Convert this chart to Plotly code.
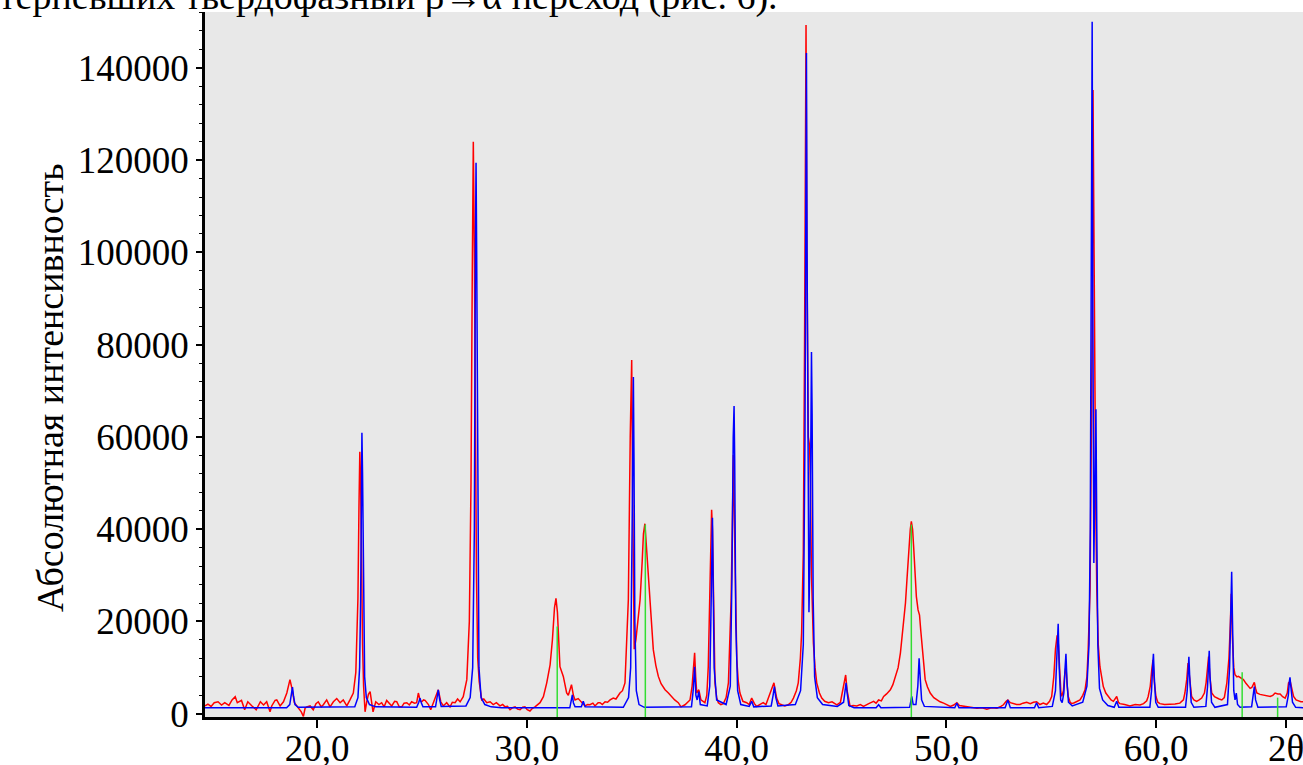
import plotly.graph_objects as go

# ---------------- data ----------------
# Red pattern: (2theta, intensity)
red_profile = [
    (14.66, 1700), (14.8, 2100), (14.95, 1600), (15.1, 2400), (15.28, 2600), (15.45, 1900),
    (15.6, 2400), (15.8, 1800), (15.95, 3000), (16.1, 3700), (16.2, 2400), (16.4, 2900),
    (16.55, 870), (16.7, 2600), (16.9, 1700), (17.1, 870), (17.3, 2600), (17.45, 1900),
    (17.6, 2600), (17.76, 430), (17.84, 1700), (18.0, 2900), (18.08, 3000), (18.24, 1700),
    (18.4, 2600), (18.56, 4500), (18.71, 7400), (18.82, 5200), (18.92, 2400), (19.02, 1800),
    (19.11, 1500), (19.25, 400), (19.35, -580), (19.43, 1200), (19.51, 1500), (19.67, 1700),
    (19.82, 870), (19.95, 2200), (20.06, 2600), (20.2, 1500), (20.3, 1950), (20.46, 3000),
    (20.62, 1500), (20.78, 2600), (20.94, 3300), (21.1, 2400), (21.25, 3000), (21.42, 1700),
    (21.57, 3000), (21.73, 4500), (21.85, 9000), (21.95, 25000), (22.0, 45000), (22.04, 56800),
    (22.08, 50000), (22.12, 30000), (22.17, 15000), (22.22, 6000), (22.29, 430), (22.37, 2600),
    (22.45, 4200), (22.53, 4800), (22.6, 2500), (22.67, 430), (22.8, 2600), (22.95, 2000),
    (23.08, 2400), (23.2, 1500), (23.32, 2900), (23.45, 2200), (23.56, 1700), (23.7, 2700),
    (23.8, 2600), (23.92, 1500), (24.04, 1500), (24.15, 2300), (24.28, 2400), (24.4, 1900),
    (24.51, 2600), (24.65, 2300), (24.75, 2400), (24.83, 4500), (24.92, 2800), (24.99, 2600),
    (25.08, 3000), (25.15, 2900), (25.31, 2000), (25.42, 870), (25.55, 2400), (25.71, 4500),
    (25.78, 5200), (25.9, 2600), (26.02, 1700), (26.18, 2400), (26.34, 1500), (26.45, 2500),
    (26.58, 2400), (26.7, 3200), (26.82, 2600), (26.97, 3700), (27.14, 7400), (27.26, 20000),
    (27.34, 50000), (27.4, 95000), (27.45, 124000), (27.5, 100000), (27.55, 60000), (27.6, 30000),
    (27.66, 12000), (27.73, 7000), (27.85, 3000), (27.95, 3200), (28.09, 2400), (28.25, 2600),
    (28.4, 2000), (28.55, 2400), (28.72, 1700), (28.85, 2000), (28.96, 1500), (29.08, 1600),
    (29.2, 870), (29.32, 1300), (29.44, 1500), (29.56, 1000), (29.68, 870), (29.8, 1400),
    (29.91, 1500), (30.02, 900), (30.15, 600), (30.27, 1200), (30.39, 1500), (30.52, 2000),
    (30.63, 2400), (30.79, 3700), (30.95, 6700), (31.11, 10600), (31.22, 16000), (31.32, 23000),
    (31.39, 25000), (31.46, 22000), (31.52, 15000), (31.58, 10200), (31.74, 8100), (31.9, 4500),
    (31.98, 4000), (32.06, 5200), (32.13, 6300), (32.22, 4000), (32.3, 3000), (32.45, 3300),
    (32.55, 2800), (32.61, 2600), (32.77, 1700), (32.9, 2000), (33.01, 1950), (33.15, 2300),
    (33.25, 1700), (33.4, 2400), (33.49, 2400), (33.6, 2000), (33.73, 2600), (33.85, 2500),
    (33.97, 3000), (34.12, 3400), (34.25, 3200), (34.44, 4500), (34.56, 5000), (34.68, 6700),
    (34.84, 24700), (34.93, 60000), (35.0, 76700), (35.04, 50000), (35.08, 20000), (35.12, 14000),
    (35.2, 16000), (35.3, 20000), (35.4, 24700), (35.5, 33000), (35.56, 39000), (35.63, 41200),
    (35.72, 34900), (35.8, 30000), (35.87, 24700), (35.95, 18000), (36.03, 13900), (36.15, 10500),
    (36.27, 8100), (36.4, 6500), (36.59, 5200), (36.75, 4500), (36.9, 3750), (37.05, 3000),
    (37.22, 2400), (37.35, 1500), (37.54, 1950), (37.66, 2500), (37.78, 3000), (37.88, 6000),
    (37.94, 10200), (38.0, 13200), (38.05, 8000), (38.1, 4500), (38.2, 5200), (38.3, 3000),
    (38.49, 2400), (38.58, 4000), (38.65, 10200), (38.73, 24700), (38.81, 44200), (38.85, 40000),
    (38.89, 26900), (38.97, 6700), (39.05, 3500), (39.13, 2400), (39.25, 2000), (39.37, 2200),
    (39.5, 3500), (39.61, 6700), (39.74, 24700), (39.8, 39200), (39.85, 56100), (39.9, 40000),
    (39.93, 31900), (40.01, 11700), (40.08, 7000), (40.16, 4500), (40.3, 2700), (40.48, 2400),
    (40.6, 2000), (40.72, 3400), (40.85, 2200), (40.96, 1600), (41.1, 2000), (41.27, 2400),
    (41.4, 2000), (41.51, 3400), (41.67, 5200), (41.78, 6700), (41.91, 3400), (42.02, 2200),
    (42.15, 1950), (42.3, 1700), (42.46, 1950), (42.6, 2500), (42.71, 3400), (42.85, 5000),
    (42.94, 6700), (43.04, 12000), (43.1, 17500), (43.18, 34900), (43.24, 80000), (43.28, 120000),
    (43.31, 149300), (43.35, 100000), (43.42, 60000), (43.48, 58000), (43.52, 50000), (43.57, 30000),
    (43.66, 15400), (43.74, 10000), (43.82, 6700), (43.95, 4500), (44.06, 3400), (44.2, 2700),
    (44.38, 2400), (44.55, 2600), (44.78, 1950), (44.95, 2500), (45.1, 5900), (45.2, 8400),
    (45.27, 5000), (45.33, 3400), (45.41, 1600), (45.55, 1800), (45.73, 1700), (45.9, 2000),
    (46.05, 1600), (46.3, 2200), (46.53, 2700), (46.65, 2300), (46.77, 3000), (46.9, 2800),
    (47.01, 3750), (47.15, 4300), (47.33, 5200), (47.45, 6300), (47.57, 8100), (47.7, 10000),
    (47.81, 13200), (47.96, 19700), (48.05, 24000), (48.12, 29000), (48.2, 35000), (48.28, 40000),
    (48.33, 41700), (48.39, 40000), (48.44, 36200), (48.5, 30000), (48.57, 25400), (48.65, 22500),
    (48.72, 21400), (48.78, 18000), (48.84, 14600), (48.92, 10000), (48.99, 7400), (49.1, 5800),
    (49.23, 4500), (49.4, 3500), (49.55, 3000), (49.7, 2600), (49.87, 2300), (50.02, 2000),
    (50.19, 1600), (50.35, 1900), (50.5, 2400), (50.62, 1800), (50.8, 1700), (50.98, 1500),
    (51.2, 1400), (51.46, 1200), (51.7, 1300), (51.93, 1000), (52.15, 1300), (52.41, 1200),
    (52.6, 1600), (52.72, 1950), (52.85, 2700), (52.93, 3000), (53.05, 2400), (53.2, 2200),
    (53.35, 2000), (53.51, 2000), (53.65, 2300), (53.83, 2500), (54.0, 2200), (54.15, 2500),
    (54.3, 2600), (54.46, 2000), (54.62, 2300), (54.78, 2000), (54.92, 2700), (55.02, 3750),
    (55.12, 8000), (55.2, 14000), (55.28, 17000), (55.34, 15000), (55.4, 8000), (55.46, 4500),
    (55.5, 3800), (55.58, 5000), (55.65, 9000), (55.7, 10200), (55.76, 6000), (55.81, 3750),
    (55.9, 2500), (55.97, 2200), (56.1, 2400), (56.25, 2800), (56.37, 3000), (56.5, 4000),
    (56.61, 5200), (56.7, 8000), (56.76, 13900), (56.85, 26900), (56.9, 50000), (56.95, 82000),
    (56.99, 135200), (57.03, 100000), (57.08, 62000), (57.12, 45000), (57.17, 27000), (57.24, 15000),
    (57.32, 10200), (57.4, 7500), (57.48, 5900), (57.6, 4500), (57.72, 3750), (57.85, 3000),
    (57.96, 2700), (58.05, 3200), (58.12, 3750), (58.2, 2500), (58.27, 2200), (58.5, 2000),
    (58.75, 1700), (59.0, 2000), (59.23, 1900), (59.4, 2200), (59.55, 2800), (59.62, 3750),
    (59.72, 6000), (59.79, 9500), (59.85, 11700), (59.91, 7000), (59.99, 3750), (60.08, 2500),
    (60.18, 2200), (60.4, 2000), (60.66, 2000), (60.9, 2100), (61.13, 2300), (61.3, 3000),
    (61.37, 4500), (61.46, 7500), (61.52, 11000), (61.58, 8000), (61.69, 3750), (61.8, 3000),
    (61.93, 2700), (62.05, 3000), (62.17, 3400), (62.3, 4500), (62.38, 6700), (62.45, 10000),
    (62.5, 12400), (62.56, 8000), (62.65, 4500), (62.78, 3700), (62.89, 3400), (63.0, 3200),
    (63.13, 3000), (63.25, 3500), (63.37, 6700), (63.47, 12000), (63.54, 20000), (63.58, 26000),
    (63.63, 17000), (63.7, 10000), (63.76, 8450), (63.85, 8000), (63.92, 8100), (64.04, 7800),
    (64.16, 7400), (64.28, 6600), (64.4, 5900), (64.48, 5500), (64.56, 5700), (64.62, 6300),
    (64.68, 6800), (64.74, 5500), (64.8, 4500), (64.95, 4200), (65.12, 4100), (65.28, 3900),
    (65.44, 3750), (65.56, 4000), (65.67, 4500), (65.8, 4300), (65.91, 4300), (66.03, 3700),
    (66.15, 3400), (66.25, 4500), (66.31, 6700), (66.39, 7000), (66.47, 5000), (66.55, 3750),
    (66.67, 3000), (66.79, 2700), (66.9, 2600), (67.01, 2600),
]

# Blue pattern: (2theta, intensity)
blue_profile = [
    (14.66, 1300), (18.55, 1300), (18.7, 2000), (18.78, 4000), (18.83, 5800), (18.88, 3800),
    (18.95, 2000), (19.1, 1400), (21.8, 1500), (21.95, 3500), (22.03, 10000), (22.08, 25000),
    (22.12, 52000), (22.14, 60900), (22.17, 52000), (22.21, 25000), (22.27, 8000), (22.35, 3500),
    (22.5, 2000), (22.8, 1500), (24.75, 1400), (24.85, 2500), (24.91, 3400), (24.97, 2400),
    (25.05, 1500), (25.65, 1500), (25.73, 3500), (25.78, 5200), (25.84, 3200), (25.92, 1600),
    (27.1, 1700), (27.3, 3500), (27.42, 10000), (27.5, 40000), (27.55, 100000), (27.58, 119400),
    (27.61, 100000), (27.66, 40000), (27.72, 10000), (27.82, 3500), (28.0, 2000), (28.3, 1500),
    (28.8, 1300), (32.05, 1300), (32.12, 2800), (32.17, 4100), (32.22, 2400), (32.3, 1500),
    (32.6, 1500), (32.69, 2700), (32.78, 1500), (34.6, 1400), (34.85, 3500), (34.95, 10000),
    (35.02, 40000), (35.06, 65000), (35.08, 73000), (35.11, 55000), (35.15, 20000), (35.22, 5000),
    (35.35, 2000), (35.6, 1400), (37.85, 1500), (37.93, 5000), (38.0, 10200), (38.06, 4000),
    (38.12, 3000), (38.2, 4800), (38.27, 2000), (38.6, 1700), (38.72, 6000), (38.79, 25000),
    (38.83, 38000), (38.85, 42500), (38.88, 30000), (38.93, 10000), (39.05, 3000), (39.5, 2000),
    (39.7, 6000), (39.78, 30000), (39.84, 60000), (39.88, 66700), (39.91, 55000), (39.96, 20000),
    (40.05, 5000), (40.2, 2000), (40.6, 1600), (40.72, 2700), (40.82, 1500), (41.65, 1700),
    (41.74, 4000), (41.8, 5900), (41.87, 3500), (41.97, 1700), (42.8, 2000), (43.05, 5000),
    (43.18, 15000), (43.26, 60000), (43.31, 120000), (43.33, 143200), (43.36, 100000),
    (43.41, 40000), (43.45, 22000), (43.5, 35000), (43.55, 70000), (43.57, 78400), (43.6, 65000),
    (43.65, 25000), (43.72, 8000), (43.85, 3500), (44.1, 2000), (44.8, 1600), (45.1, 2500),
    (45.18, 5000), (45.22, 6700), (45.27, 4500), (45.35, 1800), (45.6, 1300), (46.65, 1300),
    (46.77, 1950), (46.88, 1300), (48.25, 1400), (48.35, 3750), (48.42, 2000), (48.55, 2000),
    (48.64, 6000), (48.7, 12000), (48.75, 8000), (48.82, 3000), (48.95, 1600), (50.4, 1300),
    (50.5, 2300), (50.6, 1300), (52.8, 1300), (52.93, 3000), (53.05, 1300), (54.2, 1300),
    (54.3, 2400), (54.4, 1300), (55.05, 1600), (55.2, 5000), (55.28, 14000), (55.33, 19500),
    (55.38, 10000), (55.45, 3000), (55.52, 2400), (55.6, 4500), (55.66, 10000), (55.7, 13000),
    (55.75, 7000), (55.82, 2500), (56.0, 1700), (56.5, 2500), (56.7, 6000), (56.8, 15000),
    (56.86, 40000), (56.91, 100000), (56.95, 150000), (56.98, 90000), (57.03, 32700),
    (57.08, 50000), (57.13, 66000), (57.17, 40000), (57.22, 15000), (57.3, 5500), (57.45, 3000),
    (57.7, 1800), (58.0, 1400), (58.12, 2700), (58.22, 1400), (59.7, 1400), (59.78, 5000),
    (59.84, 11000), (59.87, 13000), (59.91, 8000), (59.98, 2500), (60.1, 1400), (61.4, 1400),
    (61.48, 5000), (61.53, 10000), (61.56, 12350), (61.6, 8000), (61.67, 2500), (61.8, 1400),
    (62.37, 1600), (62.45, 6000), (62.5, 12000), (62.53, 13650), (62.57, 8000), (62.64, 2500),
    (62.8, 1400), (63.4, 2000), (63.5, 10000), (63.56, 25000), (63.6, 30800), (63.64, 20000),
    (63.7, 5000), (63.76, 3000), (63.82, 4500), (63.88, 2000), (64.0, 1400), (64.55, 1500),
    (64.62, 3500), (64.68, 5900), (64.74, 3000), (64.85, 1400), (66.2, 1500), (66.3, 4000),
    (66.35, 7000), (66.38, 7900), (66.42, 6000), (66.5, 2500), (66.65, 1400), (67.05, 1300),
]

# Green reference lines
stick_pos = [31.45, 35.65, 48.33, 64.10, 65.79]
stick_int = [18900, 41000, 41000, 9000, 3500]

x_tick_vals = [20, 30, 40, 50, 60, 66.19]
x_tick_text = ["20,0", "30,0", "40,0", "50,0", "60,0", "2θ"]
y_tick_vals = [0, 20000, 40000, 60000, 80000, 100000, 120000, 140000]
y_tick_text = ["0", "20000", "40000", "60000", "80000", "100000", "120000", "140000"]

y_title = "Абсолютная интенсивность"
top_text = "терпевших твердофазный β→α переход (рис. 6)."

X_RANGE = [14.66, 67.0]
Y_RANGE = [-700, 152100]

# ---------------- figure ----------------
red_x = [p[0] for p in red_profile]
red_y = [p[1] for p in red_profile]
blue_x = [p[0] for p in blue_profile]
blue_y = [p[1] for p in blue_profile]

gx, gy = [], []
for p, h in zip(stick_pos, stick_int):
    gx += [p, p, None]
    gy += [Y_RANGE[0], h, None]

fig = go.Figure()
fig.add_trace(go.Scatter(x=red_x, y=red_y, mode="lines",
                         line=dict(color="#ff0000", width=1.5), showlegend=False))
fig.add_trace(go.Scatter(x=blue_x, y=blue_y, mode="lines",
                         line=dict(color="#0000ff", width=1.5), showlegend=False))
fig.add_trace(go.Scatter(x=gx, y=gy, mode="lines",
                         line=dict(color="#33dd33", width=1.5), showlegend=False))

FONT = "Liberation Serif, Times New Roman, serif"

fig.update_layout(
    width=1303, height=765,
    margin=dict(l=205, r=0, t=12, b=48, pad=0, autoexpand=False),
    paper_bgcolor="white", plot_bgcolor="#e8e8e8",
    font=dict(family=FONT, size=37, color="black"),
    xaxis=dict(range=X_RANGE, tickmode="array", tickvals=x_tick_vals, ticktext=x_tick_text,
               automargin=False, ticklabeloverflow="allow", ticklabelstandoff=-11,
               showgrid=False, zeroline=False, showline=True, linecolor="black", linewidth=2.5,
               ticks="outside", ticklen=8, tickwidth=2, tickcolor="black",
               tickfont=dict(family=FONT, size=37, color="black")),
    yaxis=dict(range=Y_RANGE, tickmode="array", tickvals=y_tick_vals, ticktext=y_tick_text,
               automargin=False, ticklabeloverflow="allow",
               showgrid=False, zeroline=False, showline=True, linecolor="black", linewidth=2.5,
               ticks="outside", ticklen=6, tickwidth=2, tickcolor="black",
               minor=dict(dtick=4000, tick0=0, ticks="outside", ticklen=3, tickwidth=1,
                          tickcolor="black", showgrid=False),
               tickfont=dict(family=FONT, size=37, color="black")),
    annotations=[
        dict(text=y_title, xref="paper", yref="paper", x=(50 - 205) / 1098, y=(717 - 388) / 705,
             xanchor="center", yanchor="middle", textangle=-90, showarrow=False,
             font=dict(family=FONT, size=38, color="black")),
        dict(text=top_text, xref="paper", yref="paper", x=(-3 - 205) / 1098, y=(717 - 20) / 705,
             xanchor="left", yanchor="bottom", showarrow=False,
             font=dict(family=FONT, size=38, color="black")),
    ],
)

fig.write_html("out.html", config={"displayModeBar": False},
               post_script="document.body.style.margin='0';")
